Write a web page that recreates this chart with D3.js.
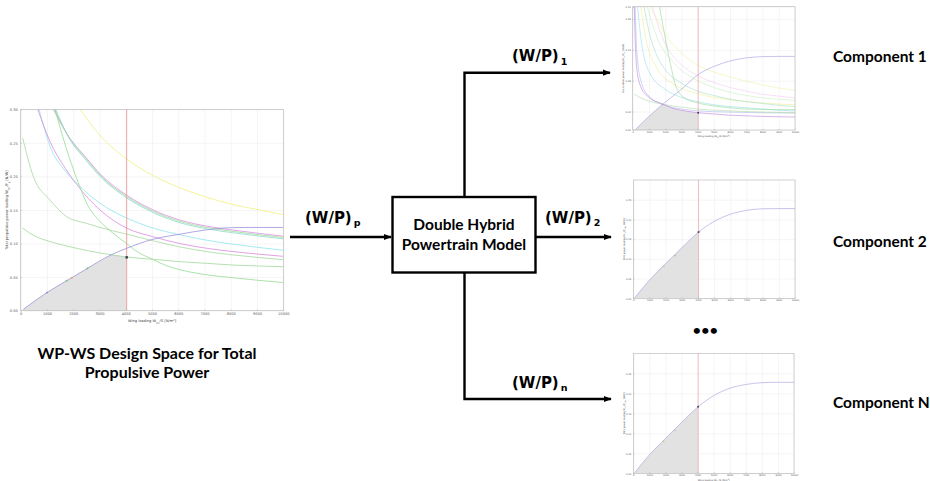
<!DOCTYPE html>
<html>
<head>
<meta charset="utf-8">
<script src="https://cdn.jsdelivr.net/npm/d3@7/dist/d3.min.js"></script>
<style>
  body { margin: 0; background: #fff; }
  svg { display: block; }
  .title { font-family: Lato, "Open Sans", sans-serif; font-weight: 700; fill: #000; }
  .flow { font-family: "DejaVu Sans", Verdana, sans-serif; font-weight: 700; fill: #000; }
  .tick text { fill: #5a5a5a; font-family: "DejaVu Sans", sans-serif; }
</style>
</head>
<body>
<svg id="fig" width="930" height="481"></svg>
<script>
const svg = d3.select('#fig');

// shared axis values
const wsTicks = [0, 1000, 2000, 3000, 4000, 5000, 6000, 7000, 8000, 9000, 10000];
const mainYTicks = [0, 0.05, 0.10, 0.15, 0.20, 0.25, 0.30];
const comp1YTicks = [0, 0.03, 0.08, 0.13, 0.18, 0.20];
const compYTicks = [0, 0.05, 0.10, 0.15, 0.20, 0.25];
const designWS = 4036;

// main WP-WS diagram: constraint curves [wing loading, power loading]
const mainYellow = [[2260, 0.300], [3000, 0.262], [4036, 0.226], [5051, 0.201], [6066, 0.183], [7081, 0.169], [8096, 0.158], [9112, 0.150], [10000, 0.143]];
const mainMagentaTop = [[1244, 0.300], [1751, 0.264], [2513, 0.227], [3020, 0.204], [4036, 0.172], [5051, 0.150], [6066, 0.135], [7081, 0.126], [8096, 0.120], [9112, 0.115], [10000, 0.111]];
const mainGreenTop = [[1290, 0.300], [1780, 0.262], [2513, 0.225], [3020, 0.202], [4036, 0.170], [5051, 0.148], [6066, 0.133], [7081, 0.124], [8096, 0.118], [9112, 0.113], [10000, 0.109]];
const mainTealTop = [[1330, 0.300], [1800, 0.260], [2513, 0.223], [3020, 0.200], [4036, 0.168], [5051, 0.146], [6066, 0.131], [7081, 0.122], [8096, 0.116], [9112, 0.111], [10000, 0.107]];
const mainCyan = [[700, 0.300], [1117, 0.245], [1700, 0.208], [2132, 0.190], [3020, 0.160], [4036, 0.138], [5051, 0.123], [6066, 0.113], [7081, 0.105], [8096, 0.099], [9112, 0.094], [10000, 0.090]];
const mainMagentaLow = [[650, 0.300], [1117, 0.252], [1700, 0.212], [2132, 0.188], [3020, 0.150], [4036, 0.123], [5051, 0.110], [6066, 0.100], [7081, 0.093], [8096, 0.088], [9112, 0.084], [10000, 0.081]];
const mainGreenSteep = [[1307, 0.300], [1751, 0.240], [2132, 0.197], [2513, 0.160], [3020, 0.133], [3500, 0.116], [4036, 0.100], [4353, 0.090], [5051, 0.076], [5558, 0.067], [6066, 0.061], [6827, 0.055], [8096, 0.049], [9112, 0.045], [10000, 0.042]];
const mainGreenHigh = [[76, 0.257], [480, 0.200], [1116, 0.165], [1752, 0.140], [2513, 0.130], [3020, 0.124], [4036, 0.114], [5051, 0.104], [6066, 0.095], [7081, 0.088], [8096, 0.083], [9112, 0.079], [10000, 0.076]];
const mainGreenLow = [[76, 0.123], [500, 0.112], [1117, 0.103], [2132, 0.093], [3020, 0.086], [4036, 0.080], [5051, 0.0765], [6066, 0.073], [7081, 0.0705], [8096, 0.068], [9112, 0.0665], [10000, 0.0655]];
const mainPower = [[100, 0.002], [1000, 0.027], [1751, 0.0447], [2538, 0.063], [3401, 0.0824], [4036, 0.093], [5000, 0.106], [6066, 0.114], [7000, 0.120], [7589, 0.1227], [8500, 0.124], [10000, 0.124]];
const mainFeasible = [[100, 0], [100, 0.002], [1000, 0.027], [1751, 0.0447], [2538, 0.063], [3401, 0.0824], [3460, 0.0836], [4036, 0.080], [4036, 0]];
const mainMarks = [[1000, 0.027, '#6f82d6'], [1751, 0.0447, '#6cc46c'], [1950, 0.049, '#e3a146'], [2538, 0.063, '#6cc46c']];
const mainDesign = [4036, 0.0795];

// component 1 diagram
const c1Yellow = [[1068, 0.200], [1500, 0.180], [2000, 0.156], [3000, 0.125], [4004, 0.105], [5000, 0.094], [6000, 0.086], [7000, 0.079], [8008, 0.073], [9000, 0.068], [10000, 0.0645]];
const c1Pink = [[1200, 0.200], [2000, 0.140], [3000, 0.106], [4000, 0.088], [5000, 0.077], [6000, 0.069], [7000, 0.063], [8000, 0.058], [9000, 0.055], [10000, 0.052]];
const c1LightGreen = [[900, 0.200], [1500, 0.150], [2500, 0.110], [4000, 0.080], [5000, 0.069], [6000, 0.061], [7000, 0.056], [8000, 0.052], [9000, 0.050], [10000, 0.048]];
const c1Yellow2 = [[500, 0.200], [800, 0.150], [1500, 0.100], [2500, 0.075], [4000, 0.059], [5000, 0.053], [6000, 0.049], [7000, 0.046], [8000, 0.044], [9000, 0.042], [10000, 0.041]];
const c1Teal = [[700, 0.200], [1000, 0.160], [1500, 0.120], [2000, 0.098], [3000, 0.076], [4000, 0.063], [5000, 0.056], [6000, 0.050], [7000, 0.046], [8000, 0.043], [9000, 0.040], [10000, 0.038]];
const c1Cyan = [[300, 0.200], [500, 0.150], [1000, 0.095], [2000, 0.066], [3000, 0.053], [4000, 0.046], [5000, 0.041], [6000, 0.038], [7000, 0.036], [8000, 0.034], [9000, 0.032], [10000, 0.031]];
const c1GreenSteep = [[1650, 0.200], [2000, 0.150], [2400, 0.098], [2700, 0.068], [3200, 0.052], [4000, 0.044], [5000, 0.039], [6000, 0.036], [7000, 0.034], [8000, 0.0335], [9000, 0.033], [10000, 0.033]];
const c1Blue = [[150, 0.200], [250, 0.130], [500, 0.080], [1000, 0.055], [2000, 0.040], [3000, 0.034], [4000, 0.031], [6000, 0.029], [8000, 0.028], [10000, 0.0275]];
const c1GreenLow = [[100, 0.058], [500, 0.052], [1000, 0.047], [2000, 0.041], [3000, 0.037], [4000, 0.034], [6000, 0.031], [8000, 0.029], [10000, 0.028]];
const c1Magenta = [[100, 0.200], [150, 0.150], [250, 0.100], [500, 0.070], [1000, 0.053], [1786, 0.043], [2500, 0.035], [3000, 0.032], [4036, 0.028], [5000, 0.026], [6000, 0.024], [7000, 0.023], [8000, 0.022], [9000, 0.0215], [10000, 0.021]];
const c1Power = [[144, 0], [1000, 0.022], [2000, 0.045], [3000, 0.066], [4036, 0.090], [5000, 0.103], [6000, 0.112], [7000, 0.117], [8000, 0.119], [9000, 0.1194], [10000, 0.1194]];
const c1Feasible = [[144, 0], [1000, 0.022], [1830, 0.041], [2500, 0.035], [3000, 0.032], [4036, 0.028], [4036, 0]];
const c1Marks = [[1830, 0.041, '#d890d8']];
const c1Design = [4036, 0.028];

// component 2 and N diagrams
const c2Power = [[100, 0.002], [1000, 0.046], [2000, 0.088], [3000, 0.128], [4036, 0.168], [5000, 0.195], [6000, 0.213], [7000, 0.223], [8000, 0.227], [9000, 0.2275], [10000, 0.2275]];
const c2Marks = [[1900, 0.080, '#e3a146'], [2600, 0.108, '#6cc46c']];
const c2Design = [4036, 0.168];
const c3Power = [[100, 0.002], [1000, 0.046], [2000, 0.087], [3000, 0.127], [4036, 0.1665], [5000, 0.194], [6000, 0.2125], [7000, 0.222], [8000, 0.2265], [9000, 0.2275], [10000, 0.2275]];
const c3Marks = [[1900, 0.080, '#e3a146'], [2600, 0.107, '#6cc46c']];
const c3Design = [4036, 0.1665];

const powerColor = '#9b92dc';

function addLabel(sel, parts, fs) {
  parts.forEach(([t, kind]) => {
    const ts = sel.append('tspan').text(t);
    if (kind === 'sub') ts.attr('font-size', fs * 0.7).attr('baseline-shift', 'sub');
    if (kind === 'sup') ts.attr('font-size', fs * 0.7).attr('baseline-shift', 'super');
  });
}

function drawPanel(p) {
  const x = d3.scaleLinear().domain([0, 10000]).range([p.left, p.right]);
  const y = d3.scaleLinear().domain(p.yDomain).range([p.bottom, p.top]);
  const w = p.right - p.left;
  const h = p.bottom - p.top;
  const g = svg.append('g').attr('class', 'panel');

  svg.append('clipPath').attr('id', 'clip-' + p.id)
    .append('rect').attr('x', p.left).attr('y', p.top).attr('width', w).attr('height', h);

  // grid
  g.append('g')
    .attr('transform', `translate(0,${p.bottom})`)
    .call(d3.axisBottom(x).tickValues(wsTicks).tickSize(-h).tickFormat(''))
    .call((s) => { s.select('.domain').remove(); s.selectAll('line').attr('stroke', '#ebebeb').attr('stroke-width', 0.5); });
  g.append('g')
    .attr('transform', `translate(${p.left},0)`)
    .call(d3.axisLeft(y).tickValues(p.yTicks).tickSize(-w).tickFormat(''))
    .call((s) => { s.select('.domain').remove(); s.selectAll('line').attr('stroke', '#ebebeb').attr('stroke-width', 0.5); });

  const plot = g.append('g').attr('clip-path', `url(#clip-${p.id})`);
  const line = d3.line().x((d) => x(d[0])).y((d) => y(d[1])).curve(d3.curveMonotoneX);

  // feasible region
  if (p.feasible) {
    plot.append('path')
      .datum(p.feasible)
      .attr('d', d3.line().x((d) => x(d[0])).y((d) => y(d[1])).curve(d3.curveLinearClosed))
      .attr('fill', '#e2e2e2');
  } else {
    const under = p.power.filter((d) => d[0] <= designWS).concat([[designWS, p.design[1]]]);
    plot.append('path')
      .datum(under)
      .attr('d', d3.area().x((d) => x(d[0])).y0(y(0)).y1((d) => y(d[1])).curve(d3.curveMonotoneX))
      .attr('fill', '#e2e2e2');
  }

  // constraint curves
  plot.selectAll('path.curve')
    .data(p.curves)
    .join('path')
    .attr('class', 'curve')
    .attr('d', (c) => line(c.pts))
    .attr('fill', 'none')
    .attr('stroke', (c) => c.color)
    .attr('stroke-width', p.lw);

  // design wing loading
  plot.append('line')
    .attr('x1', x(designWS)).attr('x2', x(designWS))
    .attr('y1', p.top).attr('y2', p.bottom)
    .attr('stroke', '#eba0a0')
    .attr('stroke-width', p.lw * 1.2);

  plot.append('path')
    .datum(p.power)
    .attr('d', line)
    .attr('fill', 'none')
    .attr('stroke', powerColor)
    .attr('stroke-width', p.lw);

  plot.selectAll('circle.mark')
    .data(p.marks)
    .join('circle')
    .attr('class', 'mark')
    .attr('cx', (d) => x(d[0]))
    .attr('cy', (d) => y(d[1]))
    .attr('r', p.lw * 1.1)
    .attr('fill', (d) => d[2]);

  const ds = p.lw * 3;
  g.append('rect')
    .attr('x', x(p.design[0]) - ds / 2)
    .attr('y', y(p.design[1]) - ds / 2)
    .attr('width', ds).attr('height', ds)
    .attr('fill', '#2f3d4c');

  // axes box
  g.append('rect')
    .attr('x', p.left).attr('y', p.top).attr('width', w).attr('height', h)
    .attr('fill', 'none').attr('stroke', '#b4b4b4').attr('stroke-width', 0.6);

  // tick labels
  g.append('g')
    .attr('transform', `translate(0,${p.bottom})`)
    .call(d3.axisBottom(x).tickValues(wsTicks).tickSize(-1.2).tickPadding(p.fs * 0.6).tickFormat(d3.format('d')))
    .call((s) => {
      s.select('.domain').remove();
      s.selectAll('line').attr('stroke', '#9a9a9a').attr('stroke-width', 0.4);
      s.selectAll('text').attr('font-size', p.fs);
    });
  g.append('g')
    .attr('transform', `translate(${p.left},0)`)
    .call(d3.axisLeft(y).tickValues(p.yTicks).tickSize(-1.2).tickPadding(p.fs * 0.8).tickFormat(d3.format('.2f')))
    .call((s) => {
      s.select('.domain').remove();
      s.selectAll('line').attr('stroke', '#9a9a9a').attr('stroke-width', 0.4);
      s.selectAll('text').attr('font-size', p.fs);
    });

  // axis titles
  if (p.xTitle) {
    const t = g.append('text')
      .attr('x', (p.left + p.right) / 2)
      .attr('y', p.bottom + p.fs * 3.1)
      .attr('text-anchor', 'middle')
      .attr('font-family', 'DejaVu Sans, sans-serif')
      .attr('font-size', p.fs)
      .attr('fill', '#444');
    addLabel(t, [['Wing loading W'], ['TO', 'sub'], ['/S [N/m'], ['2', 'sup'], [']']], p.fs);
  }
  const ty = g.append('text')
    .attr('transform', `translate(${p.left - p.fs * 3.6},${(p.top + p.bottom) / 2}) rotate(-90)`)
    .attr('text-anchor', 'middle')
    .attr('font-family', 'DejaVu Sans, sans-serif')
    .attr('font-size', p.fs)
    .attr('fill', '#444');
  addLabel(ty, p.yTitle, p.fs);
}

drawPanel({
  id: 'main', left: 20.7, right: 283.3, top: 109.3, bottom: 310.7,
  yDomain: [0, 0.30], yTicks: mainYTicks, fs: 3.6, lw: 0.8, xTitle: true,
  yTitle: [['Total propulsive power loading W'], ['TO', 'sub'], ['/P'], ['p', 'sub'], [' [N/W]']],
  curves: [
    { color: '#f2f07c', pts: mainYellow },
    { color: '#dc8ee2', pts: mainMagentaTop },
    { color: '#98dc98', pts: mainGreenTop },
    { color: '#90d8cc', pts: mainTealTop },
    { color: '#8ee4ec', pts: mainCyan },
    { color: '#d98ae0', pts: mainMagentaLow },
    { color: '#94dc94', pts: mainGreenSteep },
    { color: '#a6d8a0', pts: mainGreenHigh },
    { color: '#a2d89c', pts: mainGreenLow }
  ],
  power: mainPower, feasible: mainFeasible, marks: mainMarks, design: mainDesign
});

drawPanel({
  id: 'c1', left: 632.7, right: 795, top: 6.7, bottom: 130,
  yDomain: [0, 0.20], yTicks: comp1YTicks, fs: 2.4, lw: 0.55, xTitle: true,
  yTitle: [['Gas turbine power loading W'], ['TO', 'sub'], ['/P'], ['GT', 'sub'], [' [N/W]']],
  curves: [
    { color: '#eef0a0', pts: c1Yellow },
    { color: '#f2c6ea', pts: c1Pink },
    { color: '#c4ecbc', pts: c1LightGreen },
    { color: '#ecec8c', pts: c1Yellow2 },
    { color: '#98dcc0', pts: c1Teal },
    { color: '#90dcea', pts: c1Cyan },
    { color: '#8cd48c', pts: c1GreenSteep },
    { color: '#a8b4ec', pts: c1Blue },
    { color: '#a8d8a0', pts: c1GreenLow },
    { color: '#b878d8', pts: c1Magenta }
  ],
  power: c1Power, feasible: c1Feasible, marks: c1Marks, design: c1Design
});

drawPanel({
  id: 'c2', left: 633.3, right: 795, top: 180, bottom: 298.3,
  yDomain: [0, 0.30], yTicks: compYTicks, fs: 2.4, lw: 0.55, xTitle: false,
  yTitle: [['EM1 power loading W'], ['TO', 'sub'], ['/P'], ['EM1', 'sub'], [' [N/W]']],
  curves: [], power: c2Power, marks: c2Marks, design: c2Design
});

drawPanel({
  id: 'c3', left: 633.3, right: 794, top: 353.3, bottom: 473.3,
  yDomain: [0, 0.30], yTicks: compYTicks, fs: 2.4, lw: 0.55, xTitle: true,
  yTitle: [['EM2 power loading W'], ['TO', 'sub'], ['/P'], ['EM2', 'sub'], [' [N/W]']],
  curves: [], power: c3Power, marks: c3Marks, design: c3Design
});

// ---- block diagram ----
const defs = svg.append('defs');
defs.append('marker')
  .attr('id', 'arrow')
  .attr('viewBox', '0 0 10 10')
  .attr('refX', 9).attr('refY', 5)
  .attr('markerUnits', 'userSpaceOnUse')
  .attr('markerWidth', 8).attr('markerHeight', 8)
  .attr('orient', 'auto')
  .append('path').attr('d', 'M0,1 L10,5 L0,9 Z').attr('fill', '#000');

const flow = svg.append('g').attr('fill', 'none').attr('stroke', '#000').attr('stroke-width', 2.4);
flow.append('path').attr('d', 'M290,237 H391').attr('marker-end', 'url(#arrow)');
flow.append('path').attr('d', 'M464.5,196 V72.7 H610').attr('marker-end', 'url(#arrow)');
flow.append('path').attr('d', 'M536,237 H611').attr('marker-end', 'url(#arrow)');
flow.append('path').attr('d', 'M464.5,273 V399 H611').attr('marker-end', 'url(#arrow)');
flow.append('rect').attr('x', 392.5).attr('y', 197).attr('width', 143).attr('height', 75.5).attr('fill', '#fff');

const boxLines = ['Double Hybrid', 'Powertrain Model'];
svg.selectAll('text.box')
  .data(boxLines)
  .join('text')
  .attr('class', 'box title')
  .attr('x', 464)
  .attr('y', (d, i) => 230 + i * 20)
  .attr('text-anchor', 'middle')
  .attr('font-size', 15.5)
  .text((d) => d);

const flowLabels = [
  { x: 305, y: 222.7, sub: 'p', dy: 3.5 },
  { x: 512, y: 61, sub: '1', dy: 4 },
  { x: 545, y: 222.7, sub: '2', dy: 3.5 },
  { x: 512, y: 388.3, sub: 'n', dy: 3 }
];
flowLabels.forEach((f) => {
  const t = svg.append('text').attr('class', 'flow').attr('x', f.x).attr('y', f.y).attr('font-size', 15);
  t.append('tspan').text('(W/P)');
  t.append('tspan').attr('dx', 2).attr('dy', f.dy).attr('font-size', 9.5).text(f.sub);
});

const componentNames = [['Component 1', 62], ['Component 2', 247], ['Component N', 408]];
svg.selectAll('text.comp')
  .data(componentNames)
  .join('text')
  .attr('class', 'comp title')
  .attr('x', 833)
  .attr('y', (d) => d[1])
  .attr('font-size', 15.5)
  .text((d) => d[0]);

svg.append('text')
  .attr('class', 'title')
  .attr('x', 705.5).attr('y', 334.5)
  .attr('text-anchor', 'middle')
  .attr('font-size', 14)
  .attr('letter-spacing', 0.3)
  .text('•••');

const caption = ['WP-WS Design Space for Total', 'Propulsive Power'];
svg.selectAll('text.caption')
  .data(caption)
  .join('text')
  .attr('class', 'caption title')
  .attr('x', 147)
  .attr('y', (d, i) => 358.5 + i * 19)
  .attr('text-anchor', 'middle')
  .attr('font-size', 16)
  .text((d) => d);
</script>
</body>
</html>
